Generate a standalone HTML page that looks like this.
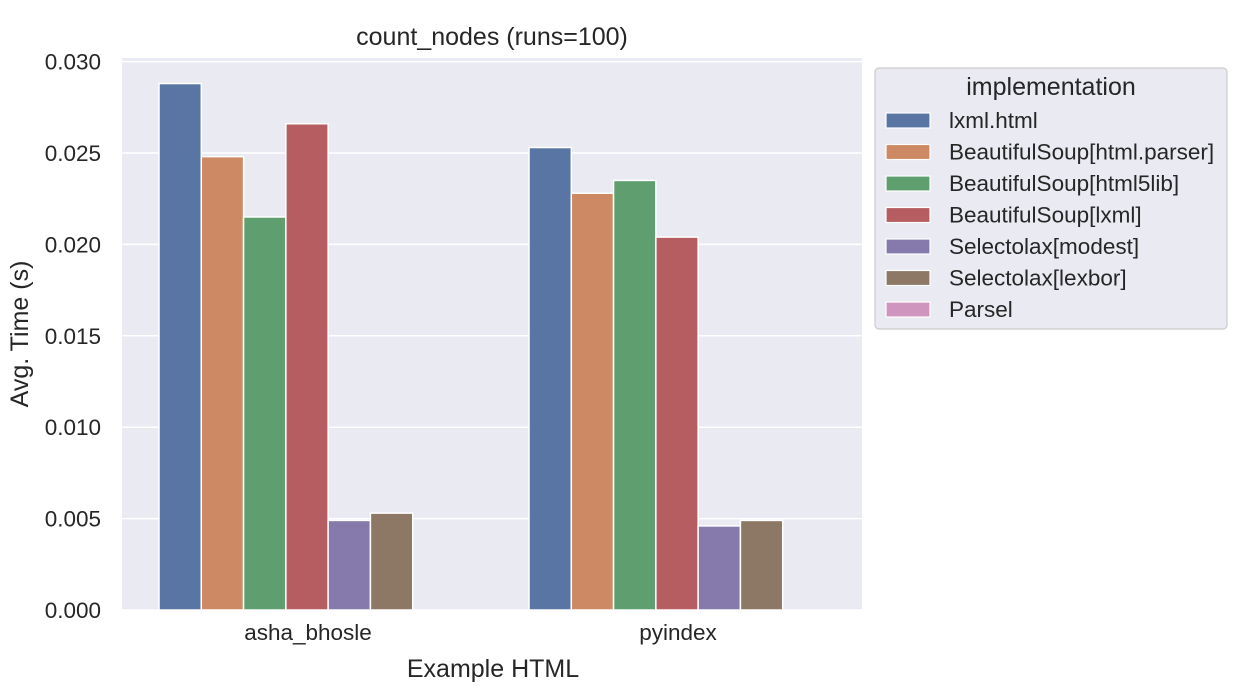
<!DOCTYPE html>
<html><head><meta charset="utf-8"><style>
body{margin:0;background:#fff;}
svg{font-family:"Liberation Sans","DejaVu Sans",sans-serif;}
</style></head><body>
<svg id="chart" width="1245" height="690" xmlns="http://www.w3.org/2000/svg">
<rect x="122" y="58" width="740" height="552" fill="#eaeaf2"/>
<g id="grid"></g><g id="bars"></g><g id="axes"></g><g id="legend"></g>
<text x="492" y="45" font-size="25" text-anchor="middle" fill="#262626">count_nodes (runs=100)</text>
<text x="493" y="677" font-size="25" text-anchor="middle" fill="#262626">Example HTML</text>
<text transform="translate(28,334) rotate(-90)" font-size="25" text-anchor="middle" fill="#262626">Avg. Time (s)</text>
</svg>
<script>
const categories = ["asha_bhosle","pyindex"];
const series = ["lxml.html","BeautifulSoup[html.parser]","BeautifulSoup[html5lib]","BeautifulSoup[lxml]","Selectolax[modest]","Selectolax[lexbor]","Parsel"];
const colors = ["#5975a4","#cc8963","#5f9e6e","#b55d60","#857aab","#8d7866","#d095bf"];
const values = [
  [0.0288,0.0253],
  [0.0248,0.0228],
  [0.0215,0.0235],
  [0.0266,0.0204],
  [0.0049,0.0046],
  [0.0053,0.0049],
  [0,0]
];
const yTicks = [0,0.005,0.010,0.015,0.020,0.025,0.030];
const yTickLabels = ["0.000","0.005","0.010","0.015","0.020","0.025","0.030"];

const NS="http://www.w3.org/2000/svg";
const X0=122,X1=862,Y0=610,PXPER=91.4/0.005;
const y=v=>Y0-v*PXPER;
const catW=(X1-X0)/categories.length;
const cx=i=>X0+catW*(i+0.5);
const bw=catW*0.8/series.length;
function mk(tag,attrs,parent){const e=document.createElementNS(NS,tag);for(const k in attrs)e.setAttribute(k,attrs[k]);parent.appendChild(e);return e;}
const grid=document.getElementById('grid'),bars=document.getElementById('bars'),axes=document.getElementById('axes'),legend=document.getElementById('legend');
yTicks.forEach((t,i)=>{
  const l=mk('line',{x1:X0,x2:X1,y1:y(t),y2:y(t),stroke:'#fff','stroke-width':1.5},grid);
  
  
  const tx=mk('text',{x:X0-21,y:y(t)+8,'font-size':22.5,'text-anchor':'end',fill:'#262626'},axes);
  tx.textContent=yTickLabels[i];
  
  
});
categories.forEach((c,i)=>{
  const tx=mk('text',{x:cx(i)+1,y:640,'font-size':22.5,'text-anchor':'middle',fill:'#262626'},axes);
  tx.textContent=c;
  
  
});
series.forEach((s,si)=>{
  categories.forEach((c,ci)=>{
    const v=values[si][ci];
    const x=cx(ci)-catW*0.4+si*bw;
    const r=mk('rect',{x:x,y:y(v),width:bw,height:Y0-y(v),fill:colors[si],stroke:'#fff','stroke-width':1.5},bars);
    
    
  });
});
const lb=mk('rect',{x:875,y:68,width:352,height:261,rx:4,fill:'#eaeaf2',stroke:'#cccccc','stroke-width':1.2},legend);


const lt=mk('text',{x:1051,y:95,'font-size':25,'text-anchor':'middle',fill:'#262626'},legend);
lt.textContent='implementation';


series.forEach((s,i)=>{
  const yy=120+i*31.5;
  const sw=mk('rect',{x:886,y:yy-7,width:44,height:15,fill:colors[i],stroke:'#fff','stroke-width':1.2},legend);
  
  
  const t=mk('text',{x:949,y:yy+8,'font-size':22.5,fill:'#262626'},legend);
  t.textContent=s;
  
  
});
</script>
</body></html>
